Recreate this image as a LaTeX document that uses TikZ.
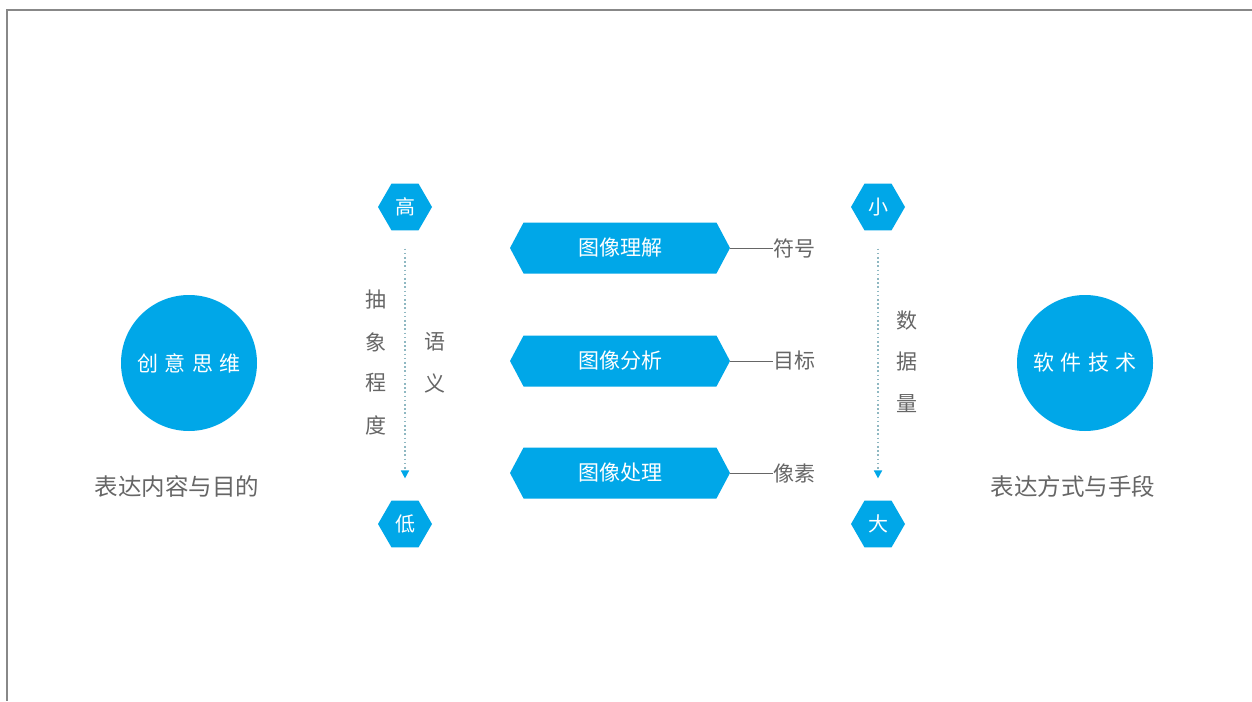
\documentclass[tikz,border=0pt]{standalone}
\usepackage{fontspec}
\setmainfont{Noto Sans CJK SC}
\newfontfamily\cjkwide[LetterSpace=30]{Noto Sans CJK SC}
\usetikzlibrary{shapes.geometric,shapes.symbols,arrows.meta}
\definecolor{mainblue}{HTML}{00A7E8}
\definecolor{txtgrey}{HTML}{666666}
\definecolor{dotgrey}{HTML}{8FB8C2}
\definecolor{framegrey}{HTML}{888888}
\tikzset{
  hexbox/.style={regular polygon, regular polygon sides=6, minimum size=54pt, inner sep=0pt, fill=mainblue, text=white, font=\fontsize{20}{22}\selectfont},
  banner/.style={signal, signal to=west and east, signal pointer angle=124, minimum width=220pt, minimum height=51pt, inner sep=0pt, fill=mainblue, text=white, font=\fontsize{21}{23}\selectfont},
  bigcircle/.style={circle, minimum size=136pt, inner sep=0pt, fill=mainblue, text=white, font=\cjkwide\fontsize{21}{23}\selectfont},
  sidelabel/.style={text=txtgrey, font=\fontsize{21}{23}\selectfont, inner sep=0pt},
  vlabel/.style={text=txtgrey, font=\fontsize{21}{23}\selectfont, inner sep=0pt},
  caption/.style={text=txtgrey, font=\fontsize{23.5}{25}\selectfont, inner sep=0pt},
  leader/.style={draw=txtgrey, line width=0.8pt},
  scaleline/.style={dotgrey, line width=1.6pt, dash pattern=on 1.6pt off 2.6pt, -{Triangle[length=8pt, width=8pt, color=mainblue]}, shorten <=18pt, shorten >=22pt}
}
\begin{document}
\begin{tikzpicture}[x=1pt, y=-1pt]
\useasboundingbox (0,0) rectangle (1252,701);
\fill[white] (0,0) rectangle (1252,701);
\coordinate (fTR) at (1252,10);
\coordinate (fTL) at (7,10);
\coordinate (fBL) at (7,701);
\draw[framegrey, line width=2pt] (fTR) -- (fTL) -- (fBL);

% circles
\node[bigcircle] (left) at (189,363) {创意思维};
\node[bigcircle] (right) at (1085,363) {软件技术};
\node[caption] (lcap) at (177,487) {表达内容与目的};
\node[caption] (rcap) at (1073,487) {表达方式与手段};

% hexagons
\node[hexbox] (hi) at (405,207) {高};
\node[hexbox] (lo) at (405,524) {低};
\node[hexbox] (sm) at (878,207) {小};
\node[hexbox] (bg) at (878,524) {大};

\draw[scaleline] (hi.south) -- (lo.north);
\draw[scaleline] (sm.south) -- (bg.north);

% vertical labels
\node[vlabel] (v1) at (376,300) {抽};
\node[vlabel] (v2) at (376,342) {象};
\node[vlabel] (v3) at (376,383) {程};
\node[vlabel] (v4) at (376,425) {度};
\node[vlabel] (v5) at (435,342) {语};
\node[vlabel] (v6) at (435,383) {义};
\node[vlabel] (v7) at (907,321) {数};
\node[vlabel] (v8) at (907,362) {据};
\node[vlabel] (v9) at (907,404) {量};

% banners
\node[banner] (b1) at (620,248) {图像理解};
\node[banner] (b2) at (620,361) {图像分析};
\node[banner] (b3) at (620,473) {图像处理};
\node[sidelabel, anchor=west] (l1) at (773,248) {符号};
\node[sidelabel, anchor=west] (l2) at (773,361) {目标};
\node[sidelabel, anchor=west] (l3) at (773,473) {像素};
\draw[leader] (b1.east) -- (l1.west);
\draw[leader] (b2.east) -- (l2.west);
\draw[leader] (b3.east) -- (l3.west);
\end{tikzpicture}
\end{document}
